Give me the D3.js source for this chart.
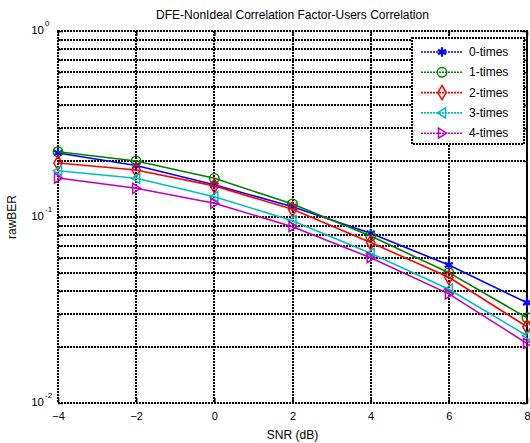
<!DOCTYPE html>
<html><head><meta charset="utf-8">
<script src="https://cdn.jsdelivr.net/npm/d3@7"></script>
<style>body{margin:0;background:#fff;} text{font-family:"Liberation Sans",Arial,sans-serif;}</style>
</head><body><svg id="c" width="530" height="443"></svg>
<script>
const snr = [-4, -2, 0, 2, 4, 6, 8];
const seriesNames = ["0-times", "1-times", "2-times", "3-times", "4-times"];
const ber0 = [0.221, 0.189, 0.149, 0.1136, 0.0817, 0.0552, 0.0346];
const ber1 = [0.2244, 0.200, 0.1615, 0.1175, 0.079, 0.0502, 0.0287];
const ber2 = [0.195, 0.179, 0.147, 0.110, 0.073, 0.0474, 0.0257];
const ber3 = [0.1774, 0.1615, 0.1286, 0.0955, 0.0638, 0.0409, 0.0230];
const ber4 = [0.162, 0.1427, 0.1185, 0.0887, 0.0604, 0.0386, 0.0209];
const xTicks = [-4, -2, 0, 2, 4, 6, 8];
const yDecades = [-2, -1, 0];
const titleText = "DFE-NonIdeal Correlation Factor-Users Correlation";
const xLabel = "SNR (dB)";
const yLabel = "rawBER";

const colors = ["#0000ff", "#008000", "#ff0000", "#00bfbf", "#bf00bf"];
const markers = ["star", "circle", "diamond", "left", "right"];
const allSeries = [ber0, ber1, ber2, ber3, ber4];

const svg = d3.select("#c");
const L = 58, R = 527, T = 31, B = 403;
const x = d3.scaleLinear().domain([-4, 8]).range([L, R]);
const y = d3.scaleLog().domain([1e-2, 1]).range([B, T]);

// grid
const gridStyle = g => g.attr("stroke", "#000").attr("stroke-width", 2).attr("stroke-dasharray", "2,1").attr("shape-rendering", "crispEdges");
const minorVals = [];
for (let e = -2; e < 0; e++) for (let k = 1; k <= 9; k++) minorVals.push(k * Math.pow(10, e));
minorVals.push(1);
svg.append("g").selectAll("line").data(minorVals).join("line")
  .attr("x1", L).attr("x2", R).attr("y1", d => Math.round(y(d))).attr("y2", d => Math.round(y(d))).call(gridStyle);
svg.append("g").selectAll("line").data(xTicks).join("line")
  .attr("x1", d => Math.round(x(d))).attr("x2", d => Math.round(x(d))).attr("y1", T).attr("y2", B).call(gridStyle);

// axis box
svg.append("rect").attr("x", L).attr("y", T).attr("width", R - L).attr("height", B - T)
  .attr("fill", "none").call(gridStyle);

// axes with inward ticks
const xAxB = d3.axisBottom(x).tickValues(xTicks).tickSize(-5).tickPadding(9).tickFormat(d3.format("d"));
const gx = svg.append("g").attr("transform", `translate(0,${B})`).call(xAxB);
gx.select(".domain").remove();
gx.selectAll("text").attr("font-size", 11).attr("fill", "#000").attr("font-family", "Liberation Sans, Arial");
gx.selectAll(".tick line").attr("stroke-width", 1.5);
const xAxT = d3.axisTop(x).tickValues(xTicks).tickSize(-5).tickFormat("");
const gxt = svg.append("g").attr("transform", `translate(0,${T})`).call(xAxT);
gxt.select(".domain").remove();
gxt.selectAll(".tick line").attr("stroke-width", 1.5);

const yAxL = d3.axisLeft(y).tickValues(minorVals).tickSize(-5).tickFormat("");
const gyl = svg.append("g").attr("transform", `translate(${L},0)`).call(yAxL);
gyl.select(".domain").remove();
gyl.selectAll(".tick line").attr("stroke-width", 1.5).attr("x2", d => Number.isInteger(Math.log10(d)) ? 5 : 3);
const yAxR = d3.axisRight(y).tickValues(minorVals).tickSize(-5).tickFormat("");
const gyr = svg.append("g").attr("transform", `translate(${R},0)`).call(yAxR);
gyr.select(".domain").remove();
gyr.selectAll(".tick line").attr("stroke-width", 1.5).attr("x2", d => Number.isInteger(Math.log10(d)) ? -5 : -3);

// y tick labels 10^n
yDecades.forEach(e => {
  svg.append("text").attr("x", 44).attr("y", y(Math.pow(10, e)) + 3)
    .attr("text-anchor", "end").attr("font-size", 11.5).attr("fill", "#000").text("10");
  svg.append("text").attr("x", 45).attr("y", y(Math.pow(10, e)) - 5)
    .attr("font-size", 8).attr("fill", "#000").text(String(e));
});

// lines
const line = d3.line().x((d, i) => x(snr[i])).y(d => y(d));
const sym = {
  star: d3.symbol().type(d3.symbolAsterisk).size(60),
  circle: d3.symbol().type(d3.symbolCircle).size(70),
  diamond: d3.symbol().type(d3.symbolDiamond).size(60),
};
function markerPath(kind) {
  if (kind === "left") return "M-4.5,0L3.5,-5L3.5,5Z";
  if (kind === "right") return "M4.5,0L-3.5,-5L-3.5,5Z";
  return sym[kind]();
}
allSeries.forEach((s, k) => {
  const g = svg.append("g");
  g.append("path").datum(s).attr("d", line).attr("fill", "none")
    .attr("stroke", colors[k]).attr("stroke-width", 1.6);
  g.selectAll("path.m").data(s).join("path").attr("class", "m")
    .attr("transform", (d, i) => `translate(${x(snr[i])},${y(d)})`)
    .attr("d", markerPath(markers[k]))
    .attr("fill", markers[k] === "star" ? colors[k] : "none")
    .attr("stroke", colors[k]).attr("stroke-width", markers[k] === "star" ? 2.2 : 1.5);
});

// legend
const lg = svg.append("g");
const lx = 412, ly = 38, lw = 112, lh = 106;
lg.append("rect").attr("x", lx).attr("y", ly).attr("width", lw).attr("height", lh)
  .attr("fill", "#fff").call(gridStyle);
seriesNames.forEach((n, k) => {
  const yy = 52 + k * 20.3;
  lg.append("line").attr("x1", 421).attr("x2", 463).attr("y1", yy).attr("y2", yy)
    .attr("stroke", colors[k]).attr("stroke-width", 1.6).attr("stroke-dasharray", "2,1");
  lg.append("path").attr("transform", `translate(442,${yy})`).attr("d", markerPath(markers[k]))
    .attr("fill", markers[k] === "star" ? colors[k] : "none")
    .attr("stroke", colors[k]).attr("stroke-width", markers[k] === "star" ? 2.2 : 1.5);
  lg.append("text").attr("x", 469).attr("y", yy + 4).attr("font-size", 12).attr("fill", "#000").text(n);
});

// titles
svg.append("text").attr("x", (L + R) / 2).attr("y", 19).attr("text-anchor", "middle")
  .attr("font-size", 12).attr("fill", "#000").text(titleText);
svg.append("text").attr("x", (L + R) / 2).attr("y", 439).attr("text-anchor", "middle")
  .attr("font-size", 12).attr("fill", "#000").text(xLabel);
svg.append("text").attr("transform", `translate(16,${(T + B) / 2}) rotate(-90)`).attr("text-anchor", "middle")
  .attr("font-size", 12).attr("fill", "#000").text(yLabel);
</script></body></html>
